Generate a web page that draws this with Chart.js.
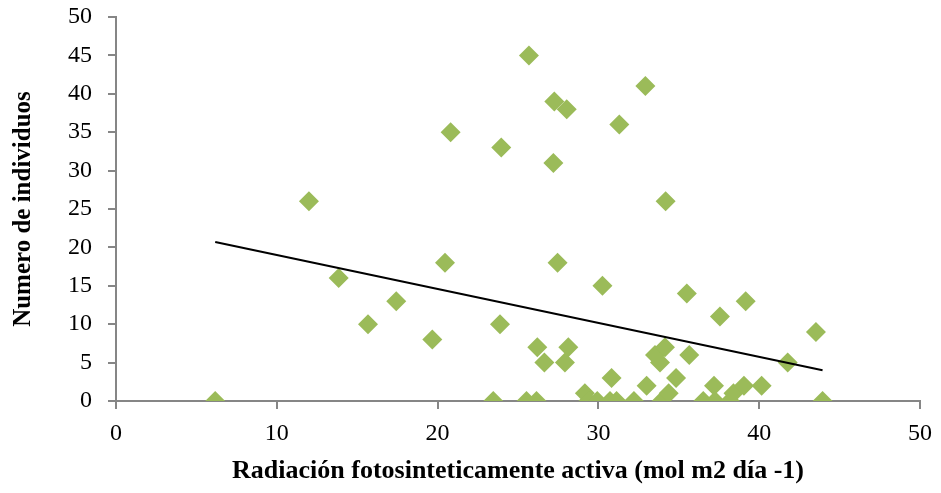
<!DOCTYPE html>
<html>
<head>
<meta charset="utf-8">
<script src="https://cdn.jsdelivr.net/npm/chart.js@4/dist/chart.umd.min.js"></script>
<style>
  html, body { margin: 0; padding: 0; background: #fff; }
  #wrap { width: 941px; height: 493px; }
</style>
</head>
<body>
<div id="wrap"><canvas id="chart"></canvas></div>
<script>
// radiation (x) and number of individuals (y)
const radiacion = [
  6.17, 12.0, 13.85, 15.67, 17.43, 19.67, 20.46, 20.81, 23.46, 23.88,
  23.96, 25.68, 25.53, 26.15, 26.2, 26.64, 27.2, 27.26, 27.46, 27.92,
  28.03, 28.13, 29.16, 29.37, 29.93, 30.25, 30.72, 30.82, 31.13, 31.3,
  32.21, 32.92, 33.0, 33.52, 33.83, 33.93, 34.14, 34.18, 34.37, 34.83,
  35.5, 35.65, 36.52, 37.19, 37.25, 37.56, 38.18, 38.4, 39.05, 39.16,
  40.15, 41.77, 43.53, 43.94
];
const individuos = [
  0, 26, 16, 10, 13, 8, 18, 35, 0, 10,
  33, 45, 0, 0, 7, 5, 31, 39, 18, 5,
  38, 7, 1, 0, 0, 15, 0, 3, 0, 36,
  0, 41, 2, 6, 5, 0, 7, 26, 1, 3,
  14, 6, 0, 2, 0, 11, 0, 1, 2, 13,
  2, 5, 9, 0
];
// linear trend line end points
const trendX = [6.17, 43.94];
const trendY = [20.7, 4.0];

const xTicks = [0, 10, 20, 30, 40, 50];
const yTicks = [0, 5, 10, 15, 20, 25, 30, 35, 40, 45, 50];

const axisColor = "#868686";
const serif = "'Liberation Serif', 'Times New Roman', serif";

new Chart(document.getElementById("chart"), {
  type: "scatter",
  data: {
    datasets: [
      {
        type: "line",
        data: trendX.map((x, i) => ({ x: x, y: trendY[i] })),
        borderColor: "#000",
        borderWidth: 2,
        pointRadius: 0,
        fill: false
      },
      {
        data: radiacion.map((x, i) => ({ x: x, y: individuos[i] })),
        pointStyle: "rectRot",
        pointRadius: 10,
        pointHoverRadius: 10,
        backgroundColor: "#9BBB59",
        borderColor: "#9BBB59",
        borderWidth: 0
      }
    ]
  },
  options: {
    responsive: true,
    maintainAspectRatio: false,
    animation: false,
    layout: { padding: { top: 17, right: 21, left: 0, bottom: 0 } },
    plugins: { legend: { display: false }, tooltip: { enabled: false } },
    scales: {
      x: {
        type: "linear",
        min: 0,
        max: 50,
        afterBuildTicks: axis => { axis.ticks = xTicks.map(v => ({ value: v })); },
        afterFit: axis => {
          axis.height = 92;
          axis.paddingLeft = 0;
          axis.paddingRight = 0;
        },
        border: { color: axisColor, width: 2 },
        grid: { display: true, drawOnChartArea: false, drawTicks: true, tickLength: 8, color: axisColor, lineWidth: 2 },
        ticks: { color: "#000", padding: 10, font: { family: serif, size: 24 } },
        title: {
          display: true,
          text: "Radiación fotosinteticamente activa (mol m2 día -1)",
          color: "#000",
          padding: { top: 8, bottom: 6 },
          font: { family: serif, size: 26, weight: "bold" }
        }
      },
      y: {
        type: "linear",
        min: 0,
        max: 50,
        afterBuildTicks: axis => { axis.ticks = yTicks.map(v => ({ value: v })); },
        afterFit: axis => {
          axis.width = 116;
          axis.paddingTop = 0;
          axis.paddingBottom = 0;
        },
        border: { color: axisColor, width: 2 },
        grid: { display: true, drawOnChartArea: false, drawTicks: true, tickLength: 8, color: axisColor, lineWidth: 2 },
        ticks: { color: "#000", padding: 16, font: { family: serif, size: 24 } },
        title: {
          display: true,
          text: "Numero de individuos",
          color: "#000",
          padding: { top: 9, bottom: 0 },
          font: { family: serif, size: 25, weight: "bold" }
        }
      }
    }
  }
});
</script>
</body>
</html>
